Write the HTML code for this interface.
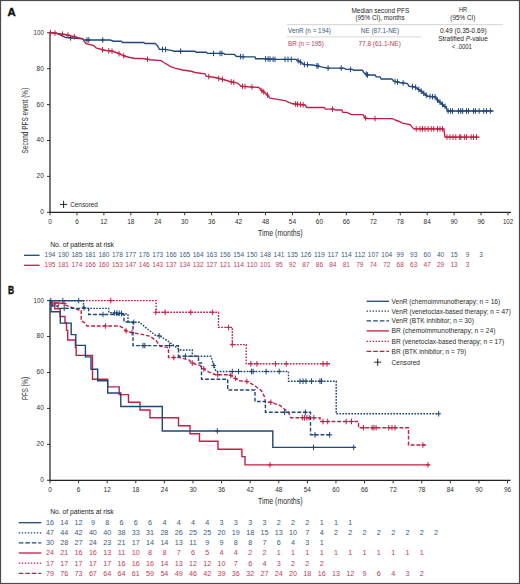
<!DOCTYPE html><html><head><meta charset="utf-8"><style>html,body{margin:0;padding:0;background:#fff}svg{display:block}</style></head><body>
<svg width="520" height="584" viewBox="0 0 520 584" font-family='"Liberation Sans", sans-serif'>
<rect x="0" y="0" width="520" height="584" fill="#fff"/>
<text x="7.4" y="16.3" font-size="11.8" fill="#111" textLength="8.2" lengthAdjust="spacingAndGlyphs" font-weight="bold" stroke="#111" stroke-width="0.45">A</text>
<text x="351.5" y="12.5" font-size="7.3" fill="#262626" textLength="57.7" lengthAdjust="spacingAndGlyphs">Median second PFS</text>
<text x="355.4" y="19.9" font-size="7.3" fill="#262626" textLength="49.2" lengthAdjust="spacingAndGlyphs">(95% CI), months</text>
<text x="458.9" y="11.9" font-size="7.3" fill="#262626" textLength="8.2" lengthAdjust="spacingAndGlyphs">HR</text>
<text x="450.3" y="19.9" font-size="7.3" fill="#262626" textLength="25.1" lengthAdjust="spacingAndGlyphs">(95% CI)</text>
<line x1="287" y1="24.6" x2="503" y2="24.6" stroke="#c4c4c4" stroke-width="0.7"/>
<line x1="287" y1="36.9" x2="421" y2="36.9" stroke="#c4c4c4" stroke-width="0.7"/>
<text x="288" y="32.8" font-size="7.3" fill="#3a5a82" textLength="42.8" lengthAdjust="spacingAndGlyphs">VenR (n = 194)</text>
<text x="360.8" y="32.8" font-size="7.3" fill="#3a5a82" textLength="38.4" lengthAdjust="spacingAndGlyphs">NE (87.1-NE)</text>
<text x="288" y="45.7" font-size="7.3" fill="#c13a5a" textLength="35.8" lengthAdjust="spacingAndGlyphs">BR (n = 195)</text>
<text x="358.5" y="45.7" font-size="7.3" fill="#c13a5a" textLength="42.3" lengthAdjust="spacingAndGlyphs">77.8 (61.1-NE)</text>
<text x="439.9" y="33.1" font-size="7.3" fill="#262626" textLength="46.7" lengthAdjust="spacingAndGlyphs">0.49 (0.35-0.69)</text>
<text x="438.2" y="40.9" font-size="7.3" fill="#262626" textLength="49.6" lengthAdjust="spacingAndGlyphs">Stratified <tspan font-style="italic">P</tspan>-value</text>
<text x="452" y="49.4" font-size="7.3" fill="#262626" textLength="19.9" lengthAdjust="spacingAndGlyphs">&lt; .0001</text>
<line x1="50" y1="31.8" x2="50" y2="212.3" stroke="#555" stroke-width="1.6"/>
<line x1="49.3" y1="212.3" x2="511" y2="212.3" stroke="#222" stroke-width="1.3"/>
<text x="43.8" y="214.20000000000002" font-size="7" fill="#2e2e2e" text-anchor="end" textLength="3.6" lengthAdjust="spacingAndGlyphs">0</text>
<text x="43.8" y="178.3" font-size="7" fill="#2e2e2e" text-anchor="end" textLength="7.2" lengthAdjust="spacingAndGlyphs">20</text>
<text x="43.8" y="142.4" font-size="7" fill="#2e2e2e" text-anchor="end" textLength="7.2" lengthAdjust="spacingAndGlyphs">40</text>
<text x="43.8" y="106.50000000000003" font-size="7" fill="#2e2e2e" text-anchor="end" textLength="7.2" lengthAdjust="spacingAndGlyphs">60</text>
<text x="43.8" y="70.60000000000002" font-size="7" fill="#2e2e2e" text-anchor="end" textLength="7.2" lengthAdjust="spacingAndGlyphs">80</text>
<text x="43.8" y="34.70000000000001" font-size="7" fill="#2e2e2e" text-anchor="end" textLength="10.2" lengthAdjust="spacingAndGlyphs">100</text>
<text x="50.0" y="223.9" font-size="7" fill="#2e2e2e" text-anchor="middle" textLength="3.6" lengthAdjust="spacingAndGlyphs">0</text>
<text x="76.94" y="223.9" font-size="7" fill="#2e2e2e" text-anchor="middle" textLength="3.6" lengthAdjust="spacingAndGlyphs">6</text>
<text x="103.88" y="223.9" font-size="7" fill="#2e2e2e" text-anchor="middle" textLength="7.2" lengthAdjust="spacingAndGlyphs">12</text>
<text x="130.82" y="223.9" font-size="7" fill="#2e2e2e" text-anchor="middle" textLength="7.2" lengthAdjust="spacingAndGlyphs">18</text>
<text x="157.76" y="223.9" font-size="7" fill="#2e2e2e" text-anchor="middle" textLength="7.2" lengthAdjust="spacingAndGlyphs">24</text>
<text x="184.70000000000002" y="223.9" font-size="7" fill="#2e2e2e" text-anchor="middle" textLength="7.2" lengthAdjust="spacingAndGlyphs">30</text>
<text x="211.64000000000001" y="223.9" font-size="7" fill="#2e2e2e" text-anchor="middle" textLength="7.2" lengthAdjust="spacingAndGlyphs">36</text>
<text x="238.58" y="223.9" font-size="7" fill="#2e2e2e" text-anchor="middle" textLength="7.2" lengthAdjust="spacingAndGlyphs">42</text>
<text x="265.52" y="223.9" font-size="7" fill="#2e2e2e" text-anchor="middle" textLength="7.2" lengthAdjust="spacingAndGlyphs">48</text>
<text x="292.46000000000004" y="223.9" font-size="7" fill="#2e2e2e" text-anchor="middle" textLength="7.2" lengthAdjust="spacingAndGlyphs">54</text>
<text x="319.40000000000003" y="223.9" font-size="7" fill="#2e2e2e" text-anchor="middle" textLength="7.2" lengthAdjust="spacingAndGlyphs">60</text>
<text x="346.34000000000003" y="223.9" font-size="7" fill="#2e2e2e" text-anchor="middle" textLength="7.2" lengthAdjust="spacingAndGlyphs">66</text>
<text x="373.28000000000003" y="223.9" font-size="7" fill="#2e2e2e" text-anchor="middle" textLength="7.2" lengthAdjust="spacingAndGlyphs">72</text>
<text x="400.22" y="223.9" font-size="7" fill="#2e2e2e" text-anchor="middle" textLength="7.2" lengthAdjust="spacingAndGlyphs">78</text>
<text x="427.16" y="223.9" font-size="7" fill="#2e2e2e" text-anchor="middle" textLength="7.2" lengthAdjust="spacingAndGlyphs">84</text>
<text x="454.1" y="223.9" font-size="7" fill="#2e2e2e" text-anchor="middle" textLength="7.2" lengthAdjust="spacingAndGlyphs">90</text>
<text x="481.04" y="223.9" font-size="7" fill="#2e2e2e" text-anchor="middle" textLength="7.2" lengthAdjust="spacingAndGlyphs">96</text>
<text x="507.98" y="223.9" font-size="7" fill="#2e2e2e" text-anchor="middle" textLength="10.2" lengthAdjust="spacingAndGlyphs">102</text>
<path d="M47,212.30H50M47,176.40H50M47,140.50H50M47,104.60H50M47,68.70H50M47,32.80H50M50.00,212.3V215.3M76.94,212.3V215.3M103.88,212.3V215.3M130.82,212.3V215.3M157.76,212.3V215.3M184.70,212.3V215.3M211.64,212.3V215.3M238.58,212.3V215.3M265.52,212.3V215.3M292.46,212.3V215.3M319.40,212.3V215.3M346.34,212.3V215.3M373.28,212.3V215.3M400.22,212.3V215.3M427.16,212.3V215.3M454.10,212.3V215.3M481.04,212.3V215.3M507.98,212.3V215.3" stroke="#333" stroke-width="1" fill="none"/>
<text transform="translate(28.2,120.6) rotate(-90)" font-size="9.8" fill="#2e2e2e" text-anchor="middle" textLength="65.7" lengthAdjust="spacingAndGlyphs">Second PFS event (%)</text>
<text x="258" y="236.2" font-size="8.3" fill="#2e2e2e" textLength="44.5" lengthAdjust="spacingAndGlyphs">Time (months)</text>
<path d="M60,204.4H67.2M63.6,200.8V208" stroke="#222" stroke-width="1" fill="none"/>
<text x="70.2" y="206.6" font-size="7.5" fill="#2a2a2a" textLength="27.7" lengthAdjust="spacingAndGlyphs">Censored</text>
<polyline points="50.00,32.50 57.00,33.50 66.00,37.50 82.50,38.75 84.00,40.00 110.00,40.00 113.75,41.25 121.25,41.25 122.50,42.50 143.75,42.50 145.00,43.50 155.00,43.50 157.50,45.60 159.40,49.40 165.00,49.40 172.50,50.60 173.75,51.25 195.00,51.25 196.25,52.25 206.25,52.25 207.50,53.40 223.75,53.40 225.00,54.40 234.40,54.40 236.25,56.25 245.00,56.90 255.00,56.90 255.60,58.75 263.75,58.75 275.00,59.40 296.25,59.40 298.75,61.25 301.25,62.50 303.75,64.40 312.50,65.00 316.25,65.60 321.25,66.90 327.50,68.10 343.75,68.10 346.25,69.40 352.50,69.40 353.75,70.25 362.50,70.25 363.75,72.50 367.50,75.00 375.00,75.00 376.25,76.90 380.00,76.90 381.25,79.00 391.90,79.00 393.75,81.25 400.00,82.50 407.50,83.50 409.00,86.25 415.00,86.90 421.25,91.25 427.50,96.25 435.00,96.90 437.50,100.00 442.50,104.40 446.25,107.50 447.50,111.00 493.50,111.00" fill="none" stroke="#1f477a" stroke-width="1.35" stroke-linejoin="miter"/>
<path d="M70.60,35.05V40.65M68.60,37.85H72.60M87.00,37.20V42.80M85.00,40.00H89.00M88.75,37.20V42.80M86.75,40.00H90.75M102.75,37.20V42.80M100.75,40.00H104.75M162.50,46.60V52.20M160.50,49.40H164.50M165.60,46.70V52.30M163.60,49.50H167.60M180.60,48.45V54.05M178.60,51.25H182.60M213.50,50.60V56.20M211.50,53.40H215.50M220.00,50.60V56.20M218.00,53.40H222.00M221.90,50.60V56.20M219.90,53.40H223.90M240.60,53.77V59.37M238.60,56.57H242.60M243.10,53.96V59.56M241.10,56.76H245.10M265.60,56.06V61.66M263.60,58.86H267.60M268.10,56.20V61.80M266.10,59.00H270.10M270.00,56.31V61.91M268.00,59.11H272.00M273.10,56.49V62.09M271.10,59.29H275.10M275.00,56.60V62.20M273.00,59.40H277.00M285.00,56.60V62.20M283.00,59.40H287.00M288.00,56.60V62.20M286.00,59.40H290.00M291.25,56.60V62.20M289.25,59.40H293.25M298.10,57.97V63.57M296.10,60.77H300.10M300.60,59.38V64.98M298.60,62.18H302.60M304.40,61.64V67.24M302.40,64.44H306.40M307.50,61.86V67.46M305.50,64.66H309.50M316.90,62.97V68.57M314.90,65.77H318.90M318.10,63.28V68.88M316.10,66.08H320.10M328.10,65.30V70.90M326.10,68.10H330.10M341.25,65.30V70.90M339.25,68.10H343.25M350.60,66.60V72.20M348.60,69.40H352.60M366.25,71.37V76.97M364.25,74.17H368.25M367.50,72.20V77.80M365.50,75.00H369.50M395.00,78.70V84.30M393.00,81.50H397.00M397.50,79.20V84.80M395.50,82.00H399.50M403.10,80.11V85.71M401.10,82.91H405.10M412.50,83.83V89.43M410.50,86.63H414.50M415.60,84.52V90.12M413.60,87.32H417.60M418.75,86.71V92.31M416.75,89.51H420.75M421.25,88.45V94.05M419.25,91.25H423.25M423.75,90.45V96.05M421.75,93.25H425.75M426.25,92.45V98.05M424.25,95.25H428.25M430.00,93.67V99.27M428.00,96.47H432.00M432.50,93.88V99.48M430.50,96.68H434.50M435.00,94.10V99.70M433.00,96.90H437.00M437.50,97.20V102.80M435.50,100.00H439.50M440.00,99.40V105.00M438.00,102.20H442.00M442.50,101.60V107.20M440.50,104.40H444.50M445.00,103.67V109.27M443.00,106.47H447.00M448.10,108.20V113.80M446.10,111.00H450.10M450.60,108.20V113.80M448.60,111.00H452.60M452.50,108.20V113.80M450.50,111.00H454.50M458.50,108.20V113.80M456.50,111.00H460.50M460.80,108.20V113.80M458.80,111.00H462.80M462.70,108.20V113.80M460.70,111.00H464.70M466.50,108.20V113.80M464.50,111.00H468.50M468.50,108.20V113.80M466.50,111.00H470.50M473.50,108.20V113.80M471.50,111.00H475.50M475.40,108.20V113.80M473.40,111.00H477.40M479.20,108.20V113.80M477.20,111.00H481.20M483.80,108.20V113.80M481.80,111.00H485.80M486.50,108.20V113.80M484.50,111.00H488.50M490.40,108.20V113.80M488.40,111.00H492.40" stroke="#1f477a" stroke-width="1.0" fill="none"/>
<polyline points="50.00,32.50 57.50,33.50 67.50,35.00 82.50,38.75 86.00,43.75 93.75,45.60 96.00,48.00 103.75,50.00 107.00,50.60 112.50,51.25 117.50,53.00 125.00,56.25 130.00,57.50 135.00,58.50 142.50,58.50 150.00,59.75 161.25,60.60 163.75,62.50 171.25,66.90 175.00,68.10 182.50,70.00 191.25,71.25 195.00,72.50 205.00,73.75 206.25,76.25 215.00,77.50 225.00,80.00 231.25,81.90 237.50,83.10 241.25,86.25 258.75,87.50 261.25,90.00 267.50,95.00 270.00,98.10 277.50,99.40 285.00,100.60 292.50,103.75 305.00,105.00 306.90,107.50 324.40,107.50 325.50,109.10 334.20,109.10 335.40,110.00 341.70,110.00 342.90,112.30 346.90,112.30 351.50,114.60 363.00,114.60 364.80,117.50 366.50,118.60 392.50,118.60 395.00,120.00 398.75,121.25 402.50,123.10 410.00,124.50 413.75,128.90 443.75,128.90 445.00,137.10 479.60,137.10" fill="none" stroke="#c21f44" stroke-width="1.35" stroke-linejoin="miter"/>
<path d="M50.50,29.77V35.37M48.50,32.57H52.50M55.00,30.37V35.97M53.00,33.17H57.00M62.50,31.45V37.05M60.50,34.25H64.50M68.00,32.33V37.92M66.00,35.12H70.00M74.40,33.93V39.52M72.40,36.73H76.40M102.50,46.88V52.48M100.50,49.68H104.50M108.75,48.01V53.61M106.75,50.81H110.75M112.00,48.39V53.99M110.00,51.19H114.00M119.00,50.85V56.45M117.00,53.65H121.00M123.75,52.91V58.51M121.75,55.71H125.75M147.50,56.53V62.13M145.50,59.33H149.50M208.75,73.81V79.41M206.75,76.61H210.75M218.75,75.64V81.24M216.75,78.44H220.75M222.50,76.58V82.17M220.50,79.38H224.50M231.25,79.10V84.70M229.25,81.90H233.25M233.75,79.58V85.18M231.75,82.38H235.75M242.50,83.54V89.14M240.50,86.34H244.50M245.00,83.72V89.32M243.00,86.52H247.00M251.90,84.21V89.81M249.90,87.01H253.90M261.90,87.72V93.32M259.90,90.52H263.90M263.75,89.20V94.80M261.75,92.00H265.75M267.50,92.20V97.80M265.50,95.00H269.50M295.60,101.26V106.86M293.60,104.06H297.60M297.50,101.45V107.05M295.50,104.25H299.50M300.60,101.76V107.36M298.60,104.56H302.60M303.10,102.01V107.61M301.10,104.81H305.10M332.50,106.30V111.90M330.50,109.10H334.50M365.40,115.09V120.69M363.40,117.89H367.40M375.00,115.80V121.40M373.00,118.60H377.00M416.25,126.10V131.70M414.25,128.90H418.25M420.00,126.10V131.70M418.00,128.90H422.00M422.50,126.10V131.70M420.50,128.90H424.50M425.00,126.10V131.70M423.00,128.90H427.00M428.10,126.10V131.70M426.10,128.90H430.10M431.25,126.10V131.70M429.25,128.90H433.25M433.75,126.10V131.70M431.75,128.90H435.75M437.50,126.10V131.70M435.50,128.90H439.50M440.00,126.10V131.70M438.00,128.90H442.00M442.50,126.10V131.70M440.50,128.90H444.50M447.00,134.30V139.90M445.00,137.10H449.00M450.00,134.30V139.90M448.00,137.10H452.00M453.00,134.30V139.90M451.00,137.10H455.00M455.80,134.30V139.90M453.80,137.10H457.80M459.60,134.30V139.90M457.60,137.10H461.60M460.80,134.30V139.90M458.80,137.10H462.80M464.60,134.30V139.90M462.60,137.10H466.60M466.50,134.30V139.90M464.50,137.10H468.50M471.20,134.30V139.90M469.20,137.10H473.20M473.50,134.30V139.90M471.50,137.10H475.50M476.50,134.30V139.90M474.50,137.10H478.50" stroke="#c21f44" stroke-width="1.0" fill="none"/>
<text x="50.2" y="247.2" font-size="7.0" fill="#222" textLength="63.8" lengthAdjust="spacingAndGlyphs">No. of patients at risk</text>
<line x1="24" y1="255.3" x2="39.6" y2="255.3" stroke="#1f477a" stroke-width="1.3"/>
<line x1="24" y1="265.3" x2="39.6" y2="265.3" stroke="#c21f44" stroke-width="1.3"/>
<text x="50.00" y="257.1" font-size="7.2" fill="#3a5a82" text-anchor="middle" textLength="10.9" lengthAdjust="spacingAndGlyphs">194</text>
<text x="63.47" y="257.1" font-size="7.2" fill="#3a5a82" text-anchor="middle" textLength="10.9" lengthAdjust="spacingAndGlyphs">190</text>
<text x="76.94" y="257.1" font-size="7.2" fill="#3a5a82" text-anchor="middle" textLength="10.9" lengthAdjust="spacingAndGlyphs">185</text>
<text x="90.41" y="257.1" font-size="7.2" fill="#3a5a82" text-anchor="middle" textLength="10.9" lengthAdjust="spacingAndGlyphs">181</text>
<text x="103.88" y="257.1" font-size="7.2" fill="#3a5a82" text-anchor="middle" textLength="10.9" lengthAdjust="spacingAndGlyphs">180</text>
<text x="117.35" y="257.1" font-size="7.2" fill="#3a5a82" text-anchor="middle" textLength="10.9" lengthAdjust="spacingAndGlyphs">178</text>
<text x="130.82" y="257.1" font-size="7.2" fill="#3a5a82" text-anchor="middle" textLength="10.9" lengthAdjust="spacingAndGlyphs">177</text>
<text x="144.29" y="257.1" font-size="7.2" fill="#3a5a82" text-anchor="middle" textLength="10.9" lengthAdjust="spacingAndGlyphs">176</text>
<text x="157.76" y="257.1" font-size="7.2" fill="#3a5a82" text-anchor="middle" textLength="10.9" lengthAdjust="spacingAndGlyphs">173</text>
<text x="171.23" y="257.1" font-size="7.2" fill="#3a5a82" text-anchor="middle" textLength="10.9" lengthAdjust="spacingAndGlyphs">166</text>
<text x="184.70" y="257.1" font-size="7.2" fill="#3a5a82" text-anchor="middle" textLength="10.9" lengthAdjust="spacingAndGlyphs">165</text>
<text x="198.17" y="257.1" font-size="7.2" fill="#3a5a82" text-anchor="middle" textLength="10.9" lengthAdjust="spacingAndGlyphs">164</text>
<text x="211.64" y="257.1" font-size="7.2" fill="#3a5a82" text-anchor="middle" textLength="10.9" lengthAdjust="spacingAndGlyphs">163</text>
<text x="225.11" y="257.1" font-size="7.2" fill="#3a5a82" text-anchor="middle" textLength="10.9" lengthAdjust="spacingAndGlyphs">156</text>
<text x="238.58" y="257.1" font-size="7.2" fill="#3a5a82" text-anchor="middle" textLength="10.9" lengthAdjust="spacingAndGlyphs">154</text>
<text x="252.05" y="257.1" font-size="7.2" fill="#3a5a82" text-anchor="middle" textLength="10.9" lengthAdjust="spacingAndGlyphs">150</text>
<text x="265.52" y="257.1" font-size="7.2" fill="#3a5a82" text-anchor="middle" textLength="10.9" lengthAdjust="spacingAndGlyphs">148</text>
<text x="278.99" y="257.1" font-size="7.2" fill="#3a5a82" text-anchor="middle" textLength="10.9" lengthAdjust="spacingAndGlyphs">141</text>
<text x="292.46" y="257.1" font-size="7.2" fill="#3a5a82" text-anchor="middle" textLength="10.9" lengthAdjust="spacingAndGlyphs">135</text>
<text x="305.93" y="257.1" font-size="7.2" fill="#3a5a82" text-anchor="middle" textLength="10.9" lengthAdjust="spacingAndGlyphs">126</text>
<text x="319.40" y="257.1" font-size="7.2" fill="#3a5a82" text-anchor="middle" textLength="10.9" lengthAdjust="spacingAndGlyphs">119</text>
<text x="332.87" y="257.1" font-size="7.2" fill="#3a5a82" text-anchor="middle" textLength="10.9" lengthAdjust="spacingAndGlyphs">117</text>
<text x="346.34" y="257.1" font-size="7.2" fill="#3a5a82" text-anchor="middle" textLength="10.9" lengthAdjust="spacingAndGlyphs">114</text>
<text x="359.81" y="257.1" font-size="7.2" fill="#3a5a82" text-anchor="middle" textLength="10.9" lengthAdjust="spacingAndGlyphs">112</text>
<text x="373.28" y="257.1" font-size="7.2" fill="#3a5a82" text-anchor="middle" textLength="10.9" lengthAdjust="spacingAndGlyphs">107</text>
<text x="386.75" y="257.1" font-size="7.2" fill="#3a5a82" text-anchor="middle" textLength="10.9" lengthAdjust="spacingAndGlyphs">104</text>
<text x="400.22" y="257.1" font-size="7.2" fill="#3a5a82" text-anchor="middle" textLength="7.2" lengthAdjust="spacingAndGlyphs">99</text>
<text x="413.69" y="257.1" font-size="7.2" fill="#3a5a82" text-anchor="middle" textLength="7.2" lengthAdjust="spacingAndGlyphs">93</text>
<text x="427.16" y="257.1" font-size="7.2" fill="#3a5a82" text-anchor="middle" textLength="7.2" lengthAdjust="spacingAndGlyphs">60</text>
<text x="440.63" y="257.1" font-size="7.2" fill="#3a5a82" text-anchor="middle" textLength="7.2" lengthAdjust="spacingAndGlyphs">40</text>
<text x="454.10" y="257.1" font-size="7.2" fill="#3a5a82" text-anchor="middle" textLength="7.2" lengthAdjust="spacingAndGlyphs">15</text>
<text x="467.57" y="257.1" font-size="7.2" fill="#3a5a82" text-anchor="middle" textLength="3.6" lengthAdjust="spacingAndGlyphs">9</text>
<text x="481.04" y="257.1" font-size="7.2" fill="#3a5a82" text-anchor="middle" textLength="3.6" lengthAdjust="spacingAndGlyphs">3</text>
<text x="50.00" y="267.3" font-size="7.2" fill="#c13a5a" text-anchor="middle" textLength="10.9" lengthAdjust="spacingAndGlyphs">195</text>
<text x="63.47" y="267.3" font-size="7.2" fill="#c13a5a" text-anchor="middle" textLength="10.9" lengthAdjust="spacingAndGlyphs">181</text>
<text x="76.94" y="267.3" font-size="7.2" fill="#c13a5a" text-anchor="middle" textLength="10.9" lengthAdjust="spacingAndGlyphs">174</text>
<text x="90.41" y="267.3" font-size="7.2" fill="#c13a5a" text-anchor="middle" textLength="10.9" lengthAdjust="spacingAndGlyphs">166</text>
<text x="103.88" y="267.3" font-size="7.2" fill="#c13a5a" text-anchor="middle" textLength="10.9" lengthAdjust="spacingAndGlyphs">160</text>
<text x="117.35" y="267.3" font-size="7.2" fill="#c13a5a" text-anchor="middle" textLength="10.9" lengthAdjust="spacingAndGlyphs">153</text>
<text x="130.82" y="267.3" font-size="7.2" fill="#c13a5a" text-anchor="middle" textLength="10.9" lengthAdjust="spacingAndGlyphs">147</text>
<text x="144.29" y="267.3" font-size="7.2" fill="#c13a5a" text-anchor="middle" textLength="10.9" lengthAdjust="spacingAndGlyphs">146</text>
<text x="157.76" y="267.3" font-size="7.2" fill="#c13a5a" text-anchor="middle" textLength="10.9" lengthAdjust="spacingAndGlyphs">143</text>
<text x="171.23" y="267.3" font-size="7.2" fill="#c13a5a" text-anchor="middle" textLength="10.9" lengthAdjust="spacingAndGlyphs">137</text>
<text x="184.70" y="267.3" font-size="7.2" fill="#c13a5a" text-anchor="middle" textLength="10.9" lengthAdjust="spacingAndGlyphs">134</text>
<text x="198.17" y="267.3" font-size="7.2" fill="#c13a5a" text-anchor="middle" textLength="10.9" lengthAdjust="spacingAndGlyphs">132</text>
<text x="211.64" y="267.3" font-size="7.2" fill="#c13a5a" text-anchor="middle" textLength="10.9" lengthAdjust="spacingAndGlyphs">127</text>
<text x="225.11" y="267.3" font-size="7.2" fill="#c13a5a" text-anchor="middle" textLength="10.9" lengthAdjust="spacingAndGlyphs">121</text>
<text x="238.58" y="267.3" font-size="7.2" fill="#c13a5a" text-anchor="middle" textLength="10.9" lengthAdjust="spacingAndGlyphs">114</text>
<text x="252.05" y="267.3" font-size="7.2" fill="#c13a5a" text-anchor="middle" textLength="10.9" lengthAdjust="spacingAndGlyphs">110</text>
<text x="265.52" y="267.3" font-size="7.2" fill="#c13a5a" text-anchor="middle" textLength="10.9" lengthAdjust="spacingAndGlyphs">101</text>
<text x="278.99" y="267.3" font-size="7.2" fill="#c13a5a" text-anchor="middle" textLength="7.2" lengthAdjust="spacingAndGlyphs">95</text>
<text x="292.46" y="267.3" font-size="7.2" fill="#c13a5a" text-anchor="middle" textLength="7.2" lengthAdjust="spacingAndGlyphs">92</text>
<text x="305.93" y="267.3" font-size="7.2" fill="#c13a5a" text-anchor="middle" textLength="7.2" lengthAdjust="spacingAndGlyphs">87</text>
<text x="319.40" y="267.3" font-size="7.2" fill="#c13a5a" text-anchor="middle" textLength="7.2" lengthAdjust="spacingAndGlyphs">86</text>
<text x="332.87" y="267.3" font-size="7.2" fill="#c13a5a" text-anchor="middle" textLength="7.2" lengthAdjust="spacingAndGlyphs">84</text>
<text x="346.34" y="267.3" font-size="7.2" fill="#c13a5a" text-anchor="middle" textLength="7.2" lengthAdjust="spacingAndGlyphs">81</text>
<text x="359.81" y="267.3" font-size="7.2" fill="#c13a5a" text-anchor="middle" textLength="7.2" lengthAdjust="spacingAndGlyphs">79</text>
<text x="373.28" y="267.3" font-size="7.2" fill="#c13a5a" text-anchor="middle" textLength="7.2" lengthAdjust="spacingAndGlyphs">74</text>
<text x="386.75" y="267.3" font-size="7.2" fill="#c13a5a" text-anchor="middle" textLength="7.2" lengthAdjust="spacingAndGlyphs">72</text>
<text x="400.22" y="267.3" font-size="7.2" fill="#c13a5a" text-anchor="middle" textLength="7.2" lengthAdjust="spacingAndGlyphs">68</text>
<text x="413.69" y="267.3" font-size="7.2" fill="#c13a5a" text-anchor="middle" textLength="7.2" lengthAdjust="spacingAndGlyphs">63</text>
<text x="427.16" y="267.3" font-size="7.2" fill="#c13a5a" text-anchor="middle" textLength="7.2" lengthAdjust="spacingAndGlyphs">47</text>
<text x="440.63" y="267.3" font-size="7.2" fill="#c13a5a" text-anchor="middle" textLength="7.2" lengthAdjust="spacingAndGlyphs">29</text>
<text x="454.10" y="267.3" font-size="7.2" fill="#c13a5a" text-anchor="middle" textLength="7.2" lengthAdjust="spacingAndGlyphs">13</text>
<text x="467.57" y="267.3" font-size="7.2" fill="#c13a5a" text-anchor="middle" textLength="3.6" lengthAdjust="spacingAndGlyphs">3</text>
<text x="7.9" y="294.1" font-size="11.3" fill="#111" textLength="6.1" lengthAdjust="spacingAndGlyphs" font-weight="bold" stroke="#111" stroke-width="0.45">B</text>
<line x1="50" y1="299.5" x2="50" y2="480.3" stroke="#555" stroke-width="1.6"/>
<line x1="49.3" y1="480.3" x2="510.5" y2="480.3" stroke="#222" stroke-width="1.3"/>
<text x="43.8" y="482.2" font-size="7" fill="#2e2e2e" text-anchor="end" textLength="3.6" lengthAdjust="spacingAndGlyphs">0</text>
<text x="43.8" y="446.26" font-size="7" fill="#2e2e2e" text-anchor="end" textLength="7.2" lengthAdjust="spacingAndGlyphs">20</text>
<text x="43.8" y="410.32" font-size="7" fill="#2e2e2e" text-anchor="end" textLength="7.2" lengthAdjust="spacingAndGlyphs">40</text>
<text x="43.8" y="374.38" font-size="7" fill="#2e2e2e" text-anchor="end" textLength="7.2" lengthAdjust="spacingAndGlyphs">60</text>
<text x="43.8" y="338.44" font-size="7" fill="#2e2e2e" text-anchor="end" textLength="7.2" lengthAdjust="spacingAndGlyphs">80</text>
<text x="43.8" y="302.5" font-size="7" fill="#2e2e2e" text-anchor="end" textLength="10.2" lengthAdjust="spacingAndGlyphs">100</text>
<text x="50.0" y="491.6" font-size="7" fill="#2e2e2e" text-anchor="middle" textLength="3.6" lengthAdjust="spacingAndGlyphs">0</text>
<text x="78.596" y="491.6" font-size="7" fill="#2e2e2e" text-anchor="middle" textLength="3.6" lengthAdjust="spacingAndGlyphs">6</text>
<text x="107.19200000000001" y="491.6" font-size="7" fill="#2e2e2e" text-anchor="middle" textLength="7.2" lengthAdjust="spacingAndGlyphs">12</text>
<text x="135.788" y="491.6" font-size="7" fill="#2e2e2e" text-anchor="middle" textLength="7.2" lengthAdjust="spacingAndGlyphs">18</text>
<text x="164.38400000000001" y="491.6" font-size="7" fill="#2e2e2e" text-anchor="middle" textLength="7.2" lengthAdjust="spacingAndGlyphs">24</text>
<text x="192.98" y="491.6" font-size="7" fill="#2e2e2e" text-anchor="middle" textLength="7.2" lengthAdjust="spacingAndGlyphs">30</text>
<text x="221.576" y="491.6" font-size="7" fill="#2e2e2e" text-anchor="middle" textLength="7.2" lengthAdjust="spacingAndGlyphs">36</text>
<text x="250.172" y="491.6" font-size="7" fill="#2e2e2e" text-anchor="middle" textLength="7.2" lengthAdjust="spacingAndGlyphs">42</text>
<text x="278.76800000000003" y="491.6" font-size="7" fill="#2e2e2e" text-anchor="middle" textLength="7.2" lengthAdjust="spacingAndGlyphs">48</text>
<text x="307.364" y="491.6" font-size="7" fill="#2e2e2e" text-anchor="middle" textLength="7.2" lengthAdjust="spacingAndGlyphs">54</text>
<text x="335.96" y="491.6" font-size="7" fill="#2e2e2e" text-anchor="middle" textLength="7.2" lengthAdjust="spacingAndGlyphs">60</text>
<text x="364.556" y="491.6" font-size="7" fill="#2e2e2e" text-anchor="middle" textLength="7.2" lengthAdjust="spacingAndGlyphs">66</text>
<text x="393.152" y="491.6" font-size="7" fill="#2e2e2e" text-anchor="middle" textLength="7.2" lengthAdjust="spacingAndGlyphs">72</text>
<text x="421.748" y="491.6" font-size="7" fill="#2e2e2e" text-anchor="middle" textLength="7.2" lengthAdjust="spacingAndGlyphs">78</text>
<text x="450.344" y="491.6" font-size="7" fill="#2e2e2e" text-anchor="middle" textLength="7.2" lengthAdjust="spacingAndGlyphs">84</text>
<text x="478.94" y="491.6" font-size="7" fill="#2e2e2e" text-anchor="middle" textLength="7.2" lengthAdjust="spacingAndGlyphs">90</text>
<text x="507.536" y="491.6" font-size="7" fill="#2e2e2e" text-anchor="middle" textLength="7.2" lengthAdjust="spacingAndGlyphs">96</text>
<path d="M47,480.30H50M47,444.36H50M47,408.42H50M47,372.48H50M47,336.54H50M47,300.60H50M50.00,480.3V483.3M78.60,480.3V483.3M107.19,480.3V483.3M135.79,480.3V483.3M164.38,480.3V483.3M192.98,480.3V483.3M221.58,480.3V483.3M250.17,480.3V483.3M278.77,480.3V483.3M307.36,480.3V483.3M335.96,480.3V483.3M364.56,480.3V483.3M393.15,480.3V483.3M421.75,480.3V483.3M450.34,480.3V483.3M478.94,480.3V483.3M507.54,480.3V483.3" stroke="#333" stroke-width="1" fill="none"/>
<text transform="translate(28.2,388.5) rotate(-90)" font-size="9.4" fill="#2e2e2e" text-anchor="middle" textLength="23" lengthAdjust="spacingAndGlyphs">PFS (%)</text>
<text x="258" y="503.7" font-size="8.3" fill="#2e2e2e" textLength="44.5" lengthAdjust="spacingAndGlyphs">Time (months)</text>
<line x1="366.6" y1="301.3" x2="389" y2="301.3" stroke="#1f477a" stroke-width="1.3"/>
<text x="391.6" y="303.7" font-size="7.3" fill="#2a2a2a" textLength="108.5" lengthAdjust="spacingAndGlyphs">VenR (chemoimmunotherapy; n = 16)</text>
<line x1="366.6" y1="311.2" x2="389" y2="311.2" stroke="#1f477a" stroke-width="1.3" stroke-dasharray="1.4 1.6"/>
<text x="391.6" y="313.59999999999997" font-size="7.3" fill="#2a2a2a" textLength="119.3" lengthAdjust="spacingAndGlyphs">VenR (venetoclax-based therapy; n = 47)</text>
<line x1="366.6" y1="320.9" x2="389" y2="320.9" stroke="#1f477a" stroke-width="1.3" stroke-dasharray="4.6 2"/>
<text x="391.6" y="323.29999999999995" font-size="7.3" fill="#2a2a2a" textLength="82.3" lengthAdjust="spacingAndGlyphs">VenR (BTK inhibitor; n = 30)</text>
<line x1="366.6" y1="330.9" x2="389" y2="330.9" stroke="#c21f44" stroke-width="1.3"/>
<text x="391.6" y="333.29999999999995" font-size="7.3" fill="#2a2a2a" textLength="103.9" lengthAdjust="spacingAndGlyphs">BR (chemoimmunotherapy; n = 24)</text>
<line x1="366.6" y1="341.3" x2="389" y2="341.3" stroke="#c21f44" stroke-width="1.3" stroke-dasharray="1.4 1.6"/>
<text x="391.6" y="343.7" font-size="7.3" fill="#2a2a2a" textLength="112.5" lengthAdjust="spacingAndGlyphs">BR (venetoclax-based therapy; n = 17)</text>
<line x1="366.6" y1="351.4" x2="389" y2="351.4" stroke="#c21f44" stroke-width="1.3" stroke-dasharray="4.6 2"/>
<text x="391.6" y="353.79999999999995" font-size="7.3" fill="#2a2a2a" textLength="74.5" lengthAdjust="spacingAndGlyphs">BR (BTK inhibitor; n = 79)</text>
<path d="M374.2,362.2H381.2M377.7,358.7V365.7" stroke="#222" stroke-width="1" fill="none"/>
<text x="391.6" y="364.6" font-size="7.3" fill="#2a2a2a" textLength="28.4" lengthAdjust="spacingAndGlyphs">Censored</text>
<polyline points="50.00,300.60 51.00,300.60 51.00,304.00 54.80,304.00 54.80,308.70 60.20,308.70 60.20,316.50 65.00,316.50 65.00,322.70 66.50,322.70 66.50,330.40 67.70,330.40 67.70,340.00 75.40,340.00 75.40,347.30 76.20,347.30 76.20,355.40 92.50,355.40 92.50,379.20 107.70,379.20 107.70,386.90 119.20,386.90 119.20,394.60 128.50,394.60 128.50,402.30 140.00,402.30 140.00,410.00 150.00,410.00 150.00,417.70 178.50,417.70 178.50,425.70 190.00,425.70 190.00,433.80 199.50,433.80 199.50,441.20 218.00,441.20 218.00,449.20 241.90,449.20 241.90,456.60 245.00,456.60 245.00,464.90 429.60,464.90" fill="none" stroke="#c21f44" stroke-width="1.4" stroke-linejoin="miter"/>
<path d="M270.00,462.10V467.70M267.60,464.90H272.40M428.00,462.10V467.70M425.60,464.90H430.40" stroke="#c21f44" stroke-width="1.0" fill="none"/>
<polyline points="50.00,300.60 51.00,300.60 51.00,311.80 60.30,311.80 60.30,323.10 71.20,323.10 71.20,334.60 75.80,334.60 75.80,345.40 85.40,345.40 85.40,356.90 91.00,356.90 91.00,369.20 97.70,369.20 97.70,380.80 107.70,380.80 107.70,393.00 120.80,393.00 120.80,406.50 162.30,406.50 162.30,431.00 272.80,431.00 272.80,447.40 355.60,447.40" fill="none" stroke="#1f477a" stroke-width="1.4" stroke-linejoin="miter"/>
<path d="M217.30,428.20V433.80M214.90,431.00H219.70M313.50,444.60V450.20M311.10,447.40H315.90M353.70,444.60V450.20M351.30,447.40H356.10" stroke="#1f477a" stroke-width="1.0" fill="none"/>
<polyline points="50.00,300.60 156.20,300.60 156.20,312.30 218.50,312.30 218.50,327.40 232.30,327.40 232.30,344.60 246.20,344.60 246.20,363.80 330.00,363.80" fill="none" stroke="#c21f44" stroke-width="1.4" stroke-linejoin="miter" stroke-dasharray="1.7 1.3"/>
<path d="M110.80,297.80V303.40M108.40,300.60H113.20M155.80,309.50V315.10M153.40,312.30H158.20M165.10,309.50V315.10M162.70,312.30H167.50M190.80,309.50V315.10M188.40,312.30H193.20M212.30,309.50V315.10M209.90,312.30H214.70M228.50,324.60V330.20M226.10,327.40H230.90M232.30,341.80V347.40M229.90,344.60H234.70M250.80,361.00V366.60M248.40,363.80H253.20M256.90,361.00V366.60M254.50,363.80H259.30M275.40,361.00V366.60M273.00,363.80H277.80M286.20,361.00V366.60M283.80,363.80H288.60M323.00,361.00V366.60M320.60,363.80H325.40M327.00,361.00V366.60M324.60,363.80H329.40" stroke="#c21f44" stroke-width="1.0" fill="none"/>
<polyline points="50.00,300.60 52.00,302.70 65.00,303.50 66.00,305.40 79.00,310.00 81.20,310.00 81.20,320.80 85.00,323.00 87.00,326.00 119.20,326.00 123.00,328.00 126.00,330.90 132.00,332.60 140.00,334.00 150.00,336.20 156.00,340.50 160.00,346.00 168.50,347.70 168.50,357.50 180.00,357.50 189.00,360.00 192.00,363.00 200.00,365.40 206.00,370.80 216.00,374.80 230.00,374.80 239.00,380.80 247.00,381.50 253.00,384.60 257.50,387.70 261.50,390.80 264.60,397.00 265.40,402.30 271.00,402.30 280.00,405.40 284.60,409.20 288.50,412.30 290.80,417.70 320.00,417.70 320.00,421.50 358.50,421.50 358.50,427.70 408.50,427.70 408.50,445.00 425.80,445.00" fill="none" stroke="#c21f44" stroke-width="1.4" stroke-linejoin="miter" stroke-dasharray="3.8 1.9"/>
<path d="M55.00,300.08V305.68M52.60,302.88H57.40M58.80,300.32V305.92M56.40,303.12H61.20M64.20,300.65V306.25M61.80,303.45H66.60M105.40,323.20V328.80M103.00,326.00H107.80M126.10,328.13V333.73M123.70,330.93H128.50M131.90,329.77V335.37M129.50,332.57H134.30M173.80,354.70V360.30M171.40,357.50H176.20M192.30,360.29V365.89M189.90,363.09H194.70M203.80,366.02V371.62M201.40,368.82H206.20M217.70,372.00V377.60M215.30,374.80H220.10M230.80,372.53V378.13M228.40,375.33H233.20M235.40,375.60V381.20M233.00,378.40H237.80M246.90,378.69V384.29M244.50,381.49H249.30M270.80,399.50V405.10M268.40,402.30H273.20M302.30,414.90V420.50M299.90,417.70H304.70M304.60,414.90V420.50M302.20,417.70H307.00M306.90,414.90V420.50M304.50,417.70H309.30M309.20,414.90V420.50M306.80,417.70H311.60M313.80,414.90V420.50M311.40,417.70H316.20M323.00,418.70V424.30M320.60,421.50H325.40M327.70,418.70V424.30M325.30,421.50H330.10M346.20,418.70V424.30M343.80,421.50H348.60M351.50,418.70V424.30M349.10,421.50H353.90M363.40,424.90V430.50M361.00,427.70H365.80M372.10,424.90V430.50M369.70,427.70H374.50M374.00,424.90V430.50M371.60,427.70H376.40M376.10,424.90V430.50M373.70,427.70H378.50M388.80,424.90V430.50M386.40,427.70H391.20M392.00,424.90V430.50M389.60,427.70H394.40M395.00,424.90V430.50M392.60,427.70H397.40M422.90,442.20V447.80M420.50,445.00H425.30" stroke="#c21f44" stroke-width="1.0" fill="none"/>
<polyline points="50.00,300.60 52.00,300.60 52.00,306.00 58.00,306.00 58.00,308.40 88.70,308.40 88.70,314.50 124.00,314.50 124.00,322.00 133.00,322.00 133.00,345.60 178.50,345.60 178.50,356.20 198.50,356.20 198.50,363.00 201.50,363.00 201.50,379.20 227.70,379.20 227.70,390.00 255.00,390.00 255.00,401.50 265.40,401.50 265.40,412.30 310.50,412.30 310.50,434.80 331.50,434.80" fill="none" stroke="#1f477a" stroke-width="1.4" stroke-linejoin="miter" stroke-dasharray="3.8 1.9"/>
<path d="M64.20,305.60V311.20M61.80,308.40H66.60M103.00,311.70V317.30M100.60,314.50H105.40M143.00,342.80V348.40M140.60,345.60H145.40M144.80,342.80V348.40M142.40,345.60H147.20M169.60,342.80V348.40M167.20,345.60H172.00M185.40,353.40V359.00M183.00,356.20H187.80M284.60,409.50V415.10M282.20,412.30H287.00M305.40,409.50V415.10M303.00,412.30H307.80M315.00,432.00V437.60M312.60,434.80H317.40M329.70,432.00V437.60M327.30,434.80H332.10" stroke="#1f477a" stroke-width="1.0" fill="none"/>
<polyline points="50.00,300.60 83.50,300.60 83.50,308.40 108.80,308.40 108.80,312.50 122.00,313.50 128.00,314.20 128.00,322.30 139.60,322.30 145.00,327.00 150.00,331.00 155.00,335.00 160.00,336.00 168.50,341.50 180.00,350.00 192.30,350.00 192.30,356.20 210.80,356.20 213.80,365.40 216.00,371.50 288.50,371.50 288.50,381.20 336.20,381.20 336.20,413.80 439.20,413.80" fill="none" stroke="#1f477a" stroke-width="1.4" stroke-linejoin="miter" stroke-dasharray="1.7 1.3"/>
<path d="M50.80,297.80V303.40M48.40,300.60H53.20M62.80,297.80V303.40M60.40,300.60H65.20M78.70,297.80V303.40M76.30,300.60H81.10M84.00,305.00V310.60M81.60,307.80H86.40M114.60,310.14V315.74M112.20,312.94H117.00M116.90,310.31V315.91M114.50,313.11H119.30M119.20,310.49V316.09M116.80,313.29H121.60M121.50,310.66V316.26M119.10,313.46H123.90M133.80,319.50V325.10M131.40,322.30H136.20M159.20,333.04V338.64M156.80,335.84H161.60M213.80,362.60V368.20M211.40,365.40H216.20M232.30,368.70V374.30M229.90,371.50H234.70M238.50,368.70V374.30M236.10,371.50H240.90M251.50,368.70V374.30M249.10,371.50H253.90M253.10,368.70V374.30M250.70,371.50H255.50M266.20,368.70V374.30M263.80,371.50H268.60M279.20,368.70V374.30M276.80,371.50H281.60M300.00,378.40V384.00M297.60,381.20H302.40M303.00,378.40V384.00M300.60,381.20H305.40M306.00,378.40V384.00M303.60,381.20H308.40M311.50,378.40V384.00M309.10,381.20H313.90M320.00,378.40V384.00M317.60,381.20H322.40M321.50,378.40V384.00M319.10,381.20H323.90M438.70,411.00V416.60M436.30,413.80H441.10" stroke="#1f477a" stroke-width="1.0" fill="none"/>
<line x1="50" y1="300.6" x2="83.5" y2="300.6" stroke="#1f477a" stroke-width="1.4"/>
<text x="50.2" y="514.0" font-size="7.0" fill="#222" textLength="63.5" lengthAdjust="spacingAndGlyphs">No. of patients at risk</text>
<line x1="18.8" y1="522.7" x2="41.3" y2="522.7" stroke="#1f477a" stroke-width="1.3"/>
<text x="50.00" y="525.1" font-size="7.2" fill="#3a5a82" text-anchor="middle">16</text>
<text x="64.30" y="525.1" font-size="7.2" fill="#3a5a82" text-anchor="middle">14</text>
<text x="78.60" y="525.1" font-size="7.2" fill="#3a5a82" text-anchor="middle">12</text>
<text x="92.89" y="525.1" font-size="7.2" fill="#3a5a82" text-anchor="middle">9</text>
<text x="107.19" y="525.1" font-size="7.2" fill="#3a5a82" text-anchor="middle">8</text>
<text x="121.49" y="525.1" font-size="7.2" fill="#3a5a82" text-anchor="middle">6</text>
<text x="135.79" y="525.1" font-size="7.2" fill="#3a5a82" text-anchor="middle">6</text>
<text x="150.09" y="525.1" font-size="7.2" fill="#3a5a82" text-anchor="middle">6</text>
<text x="164.38" y="525.1" font-size="7.2" fill="#3a5a82" text-anchor="middle">4</text>
<text x="178.68" y="525.1" font-size="7.2" fill="#3a5a82" text-anchor="middle">4</text>
<text x="192.98" y="525.1" font-size="7.2" fill="#3a5a82" text-anchor="middle">4</text>
<text x="207.28" y="525.1" font-size="7.2" fill="#3a5a82" text-anchor="middle">4</text>
<text x="221.58" y="525.1" font-size="7.2" fill="#3a5a82" text-anchor="middle">3</text>
<text x="235.87" y="525.1" font-size="7.2" fill="#3a5a82" text-anchor="middle">3</text>
<text x="250.17" y="525.1" font-size="7.2" fill="#3a5a82" text-anchor="middle">3</text>
<text x="264.47" y="525.1" font-size="7.2" fill="#3a5a82" text-anchor="middle">3</text>
<text x="278.77" y="525.1" font-size="7.2" fill="#3a5a82" text-anchor="middle">2</text>
<text x="293.07" y="525.1" font-size="7.2" fill="#3a5a82" text-anchor="middle">2</text>
<text x="307.36" y="525.1" font-size="7.2" fill="#3a5a82" text-anchor="middle">2</text>
<text x="321.66" y="525.1" font-size="7.2" fill="#3a5a82" text-anchor="middle">1</text>
<text x="335.96" y="525.1" font-size="7.2" fill="#3a5a82" text-anchor="middle">1</text>
<text x="350.26" y="525.1" font-size="7.2" fill="#3a5a82" text-anchor="middle">1</text>
<line x1="18.8" y1="532.8" x2="41.3" y2="532.8" stroke="#1f477a" stroke-width="1.3" stroke-dasharray="1.4 1.6"/>
<text x="50.00" y="535.1999999999999" font-size="7.2" fill="#3a5a82" text-anchor="middle">47</text>
<text x="64.30" y="535.1999999999999" font-size="7.2" fill="#3a5a82" text-anchor="middle">44</text>
<text x="78.60" y="535.1999999999999" font-size="7.2" fill="#3a5a82" text-anchor="middle">42</text>
<text x="92.89" y="535.1999999999999" font-size="7.2" fill="#3a5a82" text-anchor="middle">40</text>
<text x="107.19" y="535.1999999999999" font-size="7.2" fill="#3a5a82" text-anchor="middle">40</text>
<text x="121.49" y="535.1999999999999" font-size="7.2" fill="#3a5a82" text-anchor="middle">38</text>
<text x="135.79" y="535.1999999999999" font-size="7.2" fill="#3a5a82" text-anchor="middle">33</text>
<text x="150.09" y="535.1999999999999" font-size="7.2" fill="#3a5a82" text-anchor="middle">31</text>
<text x="164.38" y="535.1999999999999" font-size="7.2" fill="#3a5a82" text-anchor="middle">28</text>
<text x="178.68" y="535.1999999999999" font-size="7.2" fill="#3a5a82" text-anchor="middle">26</text>
<text x="192.98" y="535.1999999999999" font-size="7.2" fill="#3a5a82" text-anchor="middle">25</text>
<text x="207.28" y="535.1999999999999" font-size="7.2" fill="#3a5a82" text-anchor="middle">25</text>
<text x="221.58" y="535.1999999999999" font-size="7.2" fill="#3a5a82" text-anchor="middle">20</text>
<text x="235.87" y="535.1999999999999" font-size="7.2" fill="#3a5a82" text-anchor="middle">19</text>
<text x="250.17" y="535.1999999999999" font-size="7.2" fill="#3a5a82" text-anchor="middle">18</text>
<text x="264.47" y="535.1999999999999" font-size="7.2" fill="#3a5a82" text-anchor="middle">15</text>
<text x="278.77" y="535.1999999999999" font-size="7.2" fill="#3a5a82" text-anchor="middle">13</text>
<text x="293.07" y="535.1999999999999" font-size="7.2" fill="#3a5a82" text-anchor="middle">10</text>
<text x="307.36" y="535.1999999999999" font-size="7.2" fill="#3a5a82" text-anchor="middle">7</text>
<text x="321.66" y="535.1999999999999" font-size="7.2" fill="#3a5a82" text-anchor="middle">4</text>
<text x="335.96" y="535.1999999999999" font-size="7.2" fill="#3a5a82" text-anchor="middle">2</text>
<text x="350.26" y="535.1999999999999" font-size="7.2" fill="#3a5a82" text-anchor="middle">2</text>
<text x="364.56" y="535.1999999999999" font-size="7.2" fill="#3a5a82" text-anchor="middle">2</text>
<text x="378.85" y="535.1999999999999" font-size="7.2" fill="#3a5a82" text-anchor="middle">2</text>
<text x="393.15" y="535.1999999999999" font-size="7.2" fill="#3a5a82" text-anchor="middle">2</text>
<text x="407.45" y="535.1999999999999" font-size="7.2" fill="#3a5a82" text-anchor="middle">2</text>
<text x="421.75" y="535.1999999999999" font-size="7.2" fill="#3a5a82" text-anchor="middle">2</text>
<text x="436.05" y="535.1999999999999" font-size="7.2" fill="#3a5a82" text-anchor="middle">2</text>
<line x1="18.8" y1="542.9" x2="41.3" y2="542.9" stroke="#1f477a" stroke-width="1.3" stroke-dasharray="4.6 1.9"/>
<text x="50.00" y="545.3" font-size="7.2" fill="#3a5a82" text-anchor="middle">30</text>
<text x="64.30" y="545.3" font-size="7.2" fill="#3a5a82" text-anchor="middle">28</text>
<text x="78.60" y="545.3" font-size="7.2" fill="#3a5a82" text-anchor="middle">27</text>
<text x="92.89" y="545.3" font-size="7.2" fill="#3a5a82" text-anchor="middle">24</text>
<text x="107.19" y="545.3" font-size="7.2" fill="#3a5a82" text-anchor="middle">23</text>
<text x="121.49" y="545.3" font-size="7.2" fill="#3a5a82" text-anchor="middle">21</text>
<text x="135.79" y="545.3" font-size="7.2" fill="#3a5a82" text-anchor="middle">17</text>
<text x="150.09" y="545.3" font-size="7.2" fill="#3a5a82" text-anchor="middle">14</text>
<text x="164.38" y="545.3" font-size="7.2" fill="#3a5a82" text-anchor="middle">14</text>
<text x="178.68" y="545.3" font-size="7.2" fill="#3a5a82" text-anchor="middle">13</text>
<text x="192.98" y="545.3" font-size="7.2" fill="#3a5a82" text-anchor="middle">11</text>
<text x="207.28" y="545.3" font-size="7.2" fill="#3a5a82" text-anchor="middle">9</text>
<text x="221.58" y="545.3" font-size="7.2" fill="#3a5a82" text-anchor="middle">9</text>
<text x="235.87" y="545.3" font-size="7.2" fill="#3a5a82" text-anchor="middle">8</text>
<text x="250.17" y="545.3" font-size="7.2" fill="#3a5a82" text-anchor="middle">8</text>
<text x="264.47" y="545.3" font-size="7.2" fill="#3a5a82" text-anchor="middle">7</text>
<text x="278.77" y="545.3" font-size="7.2" fill="#3a5a82" text-anchor="middle">6</text>
<text x="293.07" y="545.3" font-size="7.2" fill="#3a5a82" text-anchor="middle">4</text>
<text x="307.36" y="545.3" font-size="7.2" fill="#3a5a82" text-anchor="middle">3</text>
<text x="321.66" y="545.3" font-size="7.2" fill="#3a5a82" text-anchor="middle">1</text>
<line x1="18.8" y1="553.0" x2="41.3" y2="553.0" stroke="#c21f44" stroke-width="1.3"/>
<text x="50.00" y="555.4" font-size="7.2" fill="#c13a5a" text-anchor="middle">24</text>
<text x="64.30" y="555.4" font-size="7.2" fill="#c13a5a" text-anchor="middle">21</text>
<text x="78.60" y="555.4" font-size="7.2" fill="#c13a5a" text-anchor="middle">16</text>
<text x="92.89" y="555.4" font-size="7.2" fill="#c13a5a" text-anchor="middle">16</text>
<text x="107.19" y="555.4" font-size="7.2" fill="#c13a5a" text-anchor="middle">13</text>
<text x="121.49" y="555.4" font-size="7.2" fill="#c13a5a" text-anchor="middle">11</text>
<text x="135.79" y="555.4" font-size="7.2" fill="#c13a5a" text-anchor="middle">10</text>
<text x="150.09" y="555.4" font-size="7.2" fill="#c13a5a" text-anchor="middle">8</text>
<text x="164.38" y="555.4" font-size="7.2" fill="#c13a5a" text-anchor="middle">8</text>
<text x="178.68" y="555.4" font-size="7.2" fill="#c13a5a" text-anchor="middle">7</text>
<text x="192.98" y="555.4" font-size="7.2" fill="#c13a5a" text-anchor="middle">6</text>
<text x="207.28" y="555.4" font-size="7.2" fill="#c13a5a" text-anchor="middle">5</text>
<text x="221.58" y="555.4" font-size="7.2" fill="#c13a5a" text-anchor="middle">4</text>
<text x="235.87" y="555.4" font-size="7.2" fill="#c13a5a" text-anchor="middle">4</text>
<text x="250.17" y="555.4" font-size="7.2" fill="#c13a5a" text-anchor="middle">2</text>
<text x="264.47" y="555.4" font-size="7.2" fill="#c13a5a" text-anchor="middle">2</text>
<text x="278.77" y="555.4" font-size="7.2" fill="#c13a5a" text-anchor="middle">1</text>
<text x="293.07" y="555.4" font-size="7.2" fill="#c13a5a" text-anchor="middle">1</text>
<text x="307.36" y="555.4" font-size="7.2" fill="#c13a5a" text-anchor="middle">1</text>
<text x="321.66" y="555.4" font-size="7.2" fill="#c13a5a" text-anchor="middle">1</text>
<text x="335.96" y="555.4" font-size="7.2" fill="#c13a5a" text-anchor="middle">1</text>
<text x="350.26" y="555.4" font-size="7.2" fill="#c13a5a" text-anchor="middle">1</text>
<text x="364.56" y="555.4" font-size="7.2" fill="#c13a5a" text-anchor="middle">1</text>
<text x="378.85" y="555.4" font-size="7.2" fill="#c13a5a" text-anchor="middle">1</text>
<text x="393.15" y="555.4" font-size="7.2" fill="#c13a5a" text-anchor="middle">1</text>
<text x="407.45" y="555.4" font-size="7.2" fill="#c13a5a" text-anchor="middle">1</text>
<text x="421.75" y="555.4" font-size="7.2" fill="#c13a5a" text-anchor="middle">1</text>
<line x1="18.8" y1="563.2" x2="41.3" y2="563.2" stroke="#c21f44" stroke-width="1.3" stroke-dasharray="1.4 1.6"/>
<text x="50.00" y="565.6" font-size="7.2" fill="#c13a5a" text-anchor="middle">17</text>
<text x="64.30" y="565.6" font-size="7.2" fill="#c13a5a" text-anchor="middle">17</text>
<text x="78.60" y="565.6" font-size="7.2" fill="#c13a5a" text-anchor="middle">17</text>
<text x="92.89" y="565.6" font-size="7.2" fill="#c13a5a" text-anchor="middle">17</text>
<text x="107.19" y="565.6" font-size="7.2" fill="#c13a5a" text-anchor="middle">17</text>
<text x="121.49" y="565.6" font-size="7.2" fill="#c13a5a" text-anchor="middle">16</text>
<text x="135.79" y="565.6" font-size="7.2" fill="#c13a5a" text-anchor="middle">16</text>
<text x="150.09" y="565.6" font-size="7.2" fill="#c13a5a" text-anchor="middle">16</text>
<text x="164.38" y="565.6" font-size="7.2" fill="#c13a5a" text-anchor="middle">14</text>
<text x="178.68" y="565.6" font-size="7.2" fill="#c13a5a" text-anchor="middle">13</text>
<text x="192.98" y="565.6" font-size="7.2" fill="#c13a5a" text-anchor="middle">12</text>
<text x="207.28" y="565.6" font-size="7.2" fill="#c13a5a" text-anchor="middle">12</text>
<text x="221.58" y="565.6" font-size="7.2" fill="#c13a5a" text-anchor="middle">10</text>
<text x="235.87" y="565.6" font-size="7.2" fill="#c13a5a" text-anchor="middle">7</text>
<text x="250.17" y="565.6" font-size="7.2" fill="#c13a5a" text-anchor="middle">6</text>
<text x="264.47" y="565.6" font-size="7.2" fill="#c13a5a" text-anchor="middle">4</text>
<text x="278.77" y="565.6" font-size="7.2" fill="#c13a5a" text-anchor="middle">3</text>
<text x="293.07" y="565.6" font-size="7.2" fill="#c13a5a" text-anchor="middle">2</text>
<text x="307.36" y="565.6" font-size="7.2" fill="#c13a5a" text-anchor="middle">2</text>
<text x="321.66" y="565.6" font-size="7.2" fill="#c13a5a" text-anchor="middle">2</text>
<line x1="18.8" y1="573.4" x2="41.3" y2="573.4" stroke="#c21f44" stroke-width="1.3" stroke-dasharray="4.6 1.9"/>
<text x="50.00" y="575.8" font-size="7.2" fill="#c13a5a" text-anchor="middle">79</text>
<text x="64.30" y="575.8" font-size="7.2" fill="#c13a5a" text-anchor="middle">76</text>
<text x="78.60" y="575.8" font-size="7.2" fill="#c13a5a" text-anchor="middle">73</text>
<text x="92.89" y="575.8" font-size="7.2" fill="#c13a5a" text-anchor="middle">67</text>
<text x="107.19" y="575.8" font-size="7.2" fill="#c13a5a" text-anchor="middle">64</text>
<text x="121.49" y="575.8" font-size="7.2" fill="#c13a5a" text-anchor="middle">64</text>
<text x="135.79" y="575.8" font-size="7.2" fill="#c13a5a" text-anchor="middle">61</text>
<text x="150.09" y="575.8" font-size="7.2" fill="#c13a5a" text-anchor="middle">59</text>
<text x="164.38" y="575.8" font-size="7.2" fill="#c13a5a" text-anchor="middle">54</text>
<text x="178.68" y="575.8" font-size="7.2" fill="#c13a5a" text-anchor="middle">49</text>
<text x="192.98" y="575.8" font-size="7.2" fill="#c13a5a" text-anchor="middle">46</text>
<text x="207.28" y="575.8" font-size="7.2" fill="#c13a5a" text-anchor="middle">42</text>
<text x="221.58" y="575.8" font-size="7.2" fill="#c13a5a" text-anchor="middle">39</text>
<text x="235.87" y="575.8" font-size="7.2" fill="#c13a5a" text-anchor="middle">36</text>
<text x="250.17" y="575.8" font-size="7.2" fill="#c13a5a" text-anchor="middle">32</text>
<text x="264.47" y="575.8" font-size="7.2" fill="#c13a5a" text-anchor="middle">27</text>
<text x="278.77" y="575.8" font-size="7.2" fill="#c13a5a" text-anchor="middle">24</text>
<text x="293.07" y="575.8" font-size="7.2" fill="#c13a5a" text-anchor="middle">20</text>
<text x="307.36" y="575.8" font-size="7.2" fill="#c13a5a" text-anchor="middle">18</text>
<text x="321.66" y="575.8" font-size="7.2" fill="#c13a5a" text-anchor="middle">16</text>
<text x="335.96" y="575.8" font-size="7.2" fill="#c13a5a" text-anchor="middle">13</text>
<text x="350.26" y="575.8" font-size="7.2" fill="#c13a5a" text-anchor="middle">12</text>
<text x="364.56" y="575.8" font-size="7.2" fill="#c13a5a" text-anchor="middle">9</text>
<text x="378.85" y="575.8" font-size="7.2" fill="#c13a5a" text-anchor="middle">6</text>
<text x="393.15" y="575.8" font-size="7.2" fill="#c13a5a" text-anchor="middle">4</text>
<text x="407.45" y="575.8" font-size="7.2" fill="#c13a5a" text-anchor="middle">3</text>
<text x="421.75" y="575.8" font-size="7.2" fill="#c13a5a" text-anchor="middle">2</text>
<rect x="0.5" y="0.5" width="519" height="583" fill="none" stroke="#4a4a4a" stroke-width="1.2"/>
</svg></body></html>
